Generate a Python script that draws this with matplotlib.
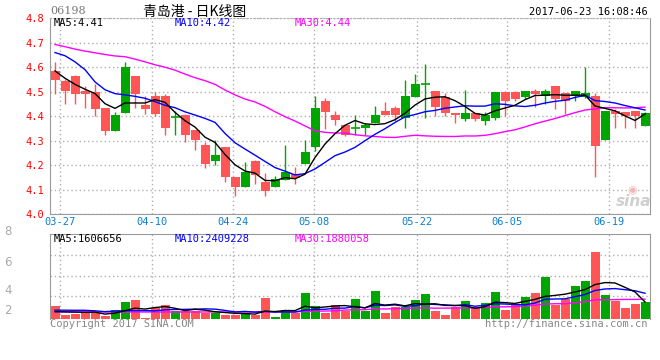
import numpy as np
import pandas as pd
import matplotlib
matplotlib.use("Agg")
import matplotlib.pyplot as plt

# ---------------- data ----------------
dates = ["03-24", "03-27", "03-28", "03-29", "03-30", "03-31", "04-03", "04-05", "04-06", "04-07",
         "04-10", "04-11", "04-12", "04-13", "04-18", "04-19", "04-20", "04-21", "04-24", "04-25",
         "04-26", "04-27", "04-28", "05-02", "05-04", "05-05", "05-08", "05-09", "05-10", "05-11",
         "05-12", "05-15", "05-16", "05-17", "05-18", "05-19", "05-22", "05-23", "05-24", "05-25",
         "05-26", "05-29", "05-31", "06-01", "06-02", "06-05", "06-06", "06-07", "06-08", "06-09",
         "06-12", "06-13", "06-14", "06-15", "06-16", "06-19", "06-20", "06-21", "06-22", "06-23"]

opens = [4.586, 4.544, 4.566, 4.503, 4.497, 4.434, 4.341, 4.411, 4.565, 4.444,
         4.483, 4.483, 4.392, 4.405, 4.344, 4.283, 4.218, 4.275, 4.152, 4.109,
         4.215, 4.132, 4.109, 4.140, 4.165, 4.203, 4.272, 4.463, 4.405, 4.363,
         4.350, 4.350, 4.370, 4.422, 4.434, 4.392, 4.480, 4.530, 4.503, 4.478,
         4.414, 4.390, 4.414, 4.382, 4.392, 4.497, 4.497, 4.479, 4.503, 4.483,
         4.524, 4.494, 4.483, 4.479, 4.482, 4.301, 4.422, 4.415, 4.422, 4.361]
highs = [4.620, 4.550, 4.567, 4.524, 4.532, 4.434, 4.415, 4.623, 4.565, 4.483,
         4.500, 4.490, 4.421, 4.410, 4.344, 4.294, 4.303, 4.275, 4.152, 4.214,
         4.222, 4.166, 4.154, 4.283, 4.193, 4.303, 4.483, 4.473, 4.422, 4.365,
         4.405, 4.373, 4.443, 4.456, 4.442, 4.547, 4.573, 4.614, 4.503, 4.494,
         4.414, 4.505, 4.414, 4.415, 4.497, 4.503, 4.503, 4.503, 4.513, 4.513,
         4.524, 4.494, 4.503, 4.600, 4.494, 4.422, 4.430, 4.415, 4.422, 4.419]
lows = [4.491, 4.450, 4.450, 4.433, 4.400, 4.321, 4.341, 4.411, 4.433, 4.410,
        4.400, 4.321, 4.321, 4.293, 4.260, 4.190, 4.201, 4.129, 4.072, 4.109,
        4.121, 4.072, 4.109, 4.140, 4.121, 4.203, 4.259, 4.348, 4.362, 4.320,
        4.321, 4.321, 4.370, 4.403, 4.382, 4.350, 4.480, 4.392, 4.401, 4.400,
        4.370, 4.382, 4.382, 4.362, 4.385, 4.400, 4.460, 4.471, 4.439, 4.450,
        4.430, 4.410, 4.460, 4.473, 4.151, 4.301, 4.351, 4.350, 4.350, 4.361]
closes = [4.548, 4.501, 4.491, 4.491, 4.431, 4.341, 4.405, 4.601, 4.491, 4.431,
          4.410, 4.350, 4.395, 4.321, 4.301, 4.203, 4.243, 4.150, 4.109, 4.173,
          4.161, 4.093, 4.144, 4.173, 4.149, 4.255, 4.434, 4.419, 4.384, 4.322,
          4.352, 4.365, 4.405, 4.403, 4.403, 4.483, 4.532, 4.531, 4.439, 4.411,
          4.403, 4.414, 4.390, 4.405, 4.497, 4.460, 4.471, 4.503, 4.491, 4.503,
          4.471, 4.460, 4.503, 4.494, 4.280, 4.422, 4.410, 4.400, 4.400, 4.412]

# volume in millions of shares
volumes = [1.26, 0.41, 0.50, 0.63, 0.57, 0.35, 0.88, 1.64, 1.82, 0.13,
           1.07, 1.35, 0.82, 0.75, 0.75, 0.63, 0.63, 0.44, 0.38, 0.63,
           0.38, 2.04, 0.22, 0.88, 0.57, 2.48, 1.26, 0.63, 1.35, 0.75,
           1.92, 0.75, 2.67, 0.60, 1.19, 1.13, 1.82, 2.39, 0.79, 0.41,
           1.13, 1.73, 1.13, 1.54, 2.58, 0.88, 1.35, 2.11, 2.48, 3.99,
           1.35, 1.92, 3.14, 3.62, 6.35, 2.30, 1.73, 1.07, 1.45, 1.64]

# moving-average values before enough history is on screen
ma5_head = [4.585, 4.555, 4.530, 4.510]
ma10_head = [4.660, 4.647, 4.622, 4.590, 4.540, 4.508, 4.492, 4.487, 4.481]
ma30_head = [4.693, 4.684, 4.674, 4.666, 4.659, 4.652, 4.646, 4.643, 4.633, 4.622,
             4.610, 4.600, 4.588, 4.572, 4.557, 4.545, 4.530, 4.507, 4.487, 4.470,
             4.458, 4.440, 4.418, 4.398, 4.380, 4.360, 4.340, 4.334, 4.331]
vma5_head = [0.72, 0.70, 0.68, 0.66]
vma10_head = [0.86, 0.86, 0.85, 0.85, 0.80, 0.72, 0.78, 0.80, 0.82]
vma30_head = [0.70, 0.70, 0.70, 0.70, 0.69, 0.69, 0.69, 0.69, 0.69, 0.69,
              0.69, 0.69, 0.69, 0.69, 0.69, 0.69, 0.69, 0.69, 0.69, 0.69,
              0.69, 0.70, 0.70, 0.71, 0.72, 0.74, 0.76, 0.78, 0.80]

tick_labels = ["03-27", "04-10", "04-24", "05-08", "05-22", "06-05", "06-19"]
tick_pos = [0.5, 9.7, 17.8, 25.9, 36.2, 45.2, 55.4]
price_ticks = [4.0, 4.1, 4.2, 4.3, 4.4, 4.5, 4.6, 4.7, 4.8]

legend_price = ["MA5:4.41", "MA10:4.42", "MA30:4.44"]
legend_vol = ["MA5:1606656", "MA10:2409228", "MA30:1880058"]

# ---------------- helpers ----------------
def with_head(series, n, head):
    out = pd.Series(series).rolling(n).mean().to_numpy()
    out[:len(head)] = head
    return out

RED = "#ff5555"
GREEN = "#00a600"
GRID = "#b0b0b0"
SPINE = "#9a9a9a"
MONO = "DejaVu Sans Mono"

W, H = 660, 360
fig = plt.figure(figsize=(6.6, 3.6), dpi=100)

def fx(x):
    return x / W

def fy(y):
    return 1 - y / H

o = np.array(opens); c = np.array(closes); hi = np.array(highs); lo = np.array(lows)
x = np.arange(len(dates))
up = c >= o
colors = np.where(up, GREEN, RED)

# ---------------- price panel ----------------
ax = fig.add_axes([fx(50), fy(214), 600 / W, (214 - 18.3) / H])
ax.set_xlim(-0.5, 59.5)
ax.set_ylim(4.0, 4.8)

ax.vlines(x, lo, hi, colors=colors, linewidth=1.0, zorder=3)
body_bottom = np.minimum(o, c)
body_h = np.abs(c - o)
big = body_h >= 0.004
ax.bar(x[big], body_h[big], bottom=body_bottom[big], width=0.9,
       color=colors[big], linewidth=0, zorder=4)
for xi, yi, col in zip(x[~big], c[~big], colors[~big]):
    ax.hlines(yi, xi - 0.45, xi + 0.45, colors=col, linewidth=1.2, zorder=4)

ax.plot(x, with_head(closes, 30, ma30_head), color="#ff00ff", lw=1.0, zorder=5)
ax.plot(x, with_head(closes, 10, ma10_head), color="#0000ff", lw=1.0, zorder=5)
ax.plot(x, with_head(closes, 5, ma5_head), color="#000000", lw=1.0, zorder=5)

ax.set_yticks(price_ticks)
ax.set_yticklabels([f"{v:.1f}" for v in price_ticks], color="#ff0000",
                   family=MONO, fontsize=7.5)
ax.set_xticks(tick_pos)
ax.set_xticklabels(tick_labels, color="#0a7fd0", family=MONO, fontsize=7.5)
ax.tick_params(axis="both", length=0)
ax.tick_params(axis="y", pad=4)
ax.tick_params(axis="x", pad=2)
ax.grid(True, color=GRID, linestyle=(0, (1, 2)), linewidth=1)
ax.set_axisbelow(True)
for side in ["left", "bottom", "right"]:
    ax.spines[side].set_color(SPINE)
ax.spines["top"].set_color(GRID)
ax.spines["top"].set_linestyle((0, (1, 2)))

# ---------------- volume panel ----------------
axv = fig.add_axes([fx(50), fy(319.3), 600 / W, (319.3 - 234.3) / H])
axv.set_xlim(-0.5, 59.5)
axv.set_ylim(0, 8.02)
axv.bar(x, volumes, width=0.9, color=colors, linewidth=0, zorder=3)
axv.plot(x, with_head(volumes, 30, vma30_head), color="#ff00ff", lw=1.0, zorder=5)
axv.plot(x, with_head(volumes, 10, vma10_head), color="#0000ff", lw=1.0, zorder=5)
axv.plot(x, with_head(volumes, 5, vma5_head), color="#000000", lw=1.0, zorder=5)
axv.set_xticks(tick_pos)
axv.set_yticks([2.2, 4.1, 6.05])
axv.tick_params(axis="both", length=0, labelleft=False, labelbottom=False)
axv.grid(True, color=GRID, linestyle=(0, (1, 2)), linewidth=1)
axv.set_axisbelow(True)
for side in ["left", "top", "right"]:
    axv.spines[side].set_color(SPINE)
axv.spines["bottom"].set_visible(False)

# ---------------- texts ----------------
fig.text(fx(50), fy(11.5), "06198", color="#777777", fontsize=8,
         family="DejaVu Serif", ha="left", va="center")
fig.text(fx(195), fy(11.5), "青岛港 - 日K线图",
         family=["Noto Sans CJK SC", "DejaVu Sans"], fontsize=10,
         ha="center", va="center")
fig.text(fx(648), fy(12), "2017-06-23 16:08:46", family=MONO, fontsize=7.5,
         ha="right", va="center")

leg_x = [54, 175, 295]
leg_col = ["#000000", "#0000ff", "#ff00ff"]
for lx, txt, col in zip(leg_x, legend_price, leg_col):
    fig.text(fx(lx), fy(23.5), txt, color=col, family=MONO, fontsize=7.5,
             ha="left", va="center")
for lx, txt, col in zip(leg_x, legend_vol, leg_col):
    fig.text(fx(lx), fy(238.5), txt, color=col, family=MONO, fontsize=7.5,
             ha="left", va="center")

for lab, yy in zip(["8", "6", "4", "2"], [231, 262, 291, 311]):
    fig.text(fx(8), fy(yy), lab, color="#aaaaaa", fontsize=8.5,
             ha="center", va="center")

fig.text(fx(50), fy(324), "Copyright 2017 SINA.COM", color="#888888",
         family=MONO, fontsize=7.5, ha="left", va="center")
fig.text(fx(648), fy(324), "http://finance.sina.com.cn", color="#888888",
         family=MONO, fontsize=7.5, ha="right", va="center")
fig.text(fx(632), fy(190), "\u25C9", color="#f2b8b8", fontsize=8,
         ha="center", va="center")
fig.text(fx(634), fy(202), "sina", color="#cfcfcf", fontsize=11,
         fontweight="bold", style="italic", ha="center", va="center")

fig.savefig("out.png", dpi=100)
